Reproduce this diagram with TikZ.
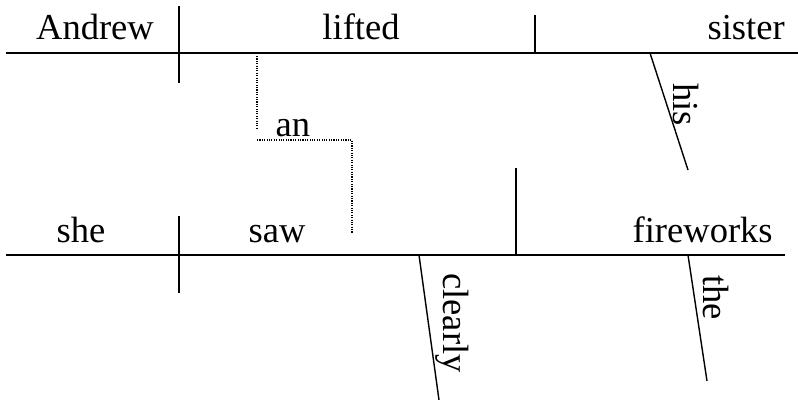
\documentclass[tikz,border=0pt]{standalone}
\usepackage{fontspec}
\setmainfont{Liberation Serif}
\usetikzlibrary{positioning}

\tikzset{
	word/.style={inner sep = 0pt, anchor = base, font=\fontsize{26}{30}\selectfont},
	slantword/.style={word, anchor = base west, rotate = -90},
	rule/.style={line width = 1pt},
	linker/.style={line width = 0.8pt, dash pattern = on 0.8pt off 0.9pt}
}

\begin{document}
\begin{tikzpicture}[x=0.025cm, y=-0.025cm]
		\useasboundingbox (0,0) rectangle (798,400);
		% upper clause
		\draw (95,40) node[word] (andrew) {Andrew}
		(361,40) node[word] (lifted) {lifted}
		(785,40) node[word, anchor = base east] (sister) {sister}
		(673,83) node[slantword] (his) {his};
		% lower clause
		\draw (81,243) node[word] (she) {she}
		(277,243) node[word] (saw) {saw}
		(773,243) node[word, anchor = base east] (fireworks) {fireworks}
		(443,273) node[slantword] (clearly) {clearly}
		(703,275) node[slantword] (the) {the}
		(293,137) node[word] (an) {an};

		\coordinate (top west) at (6,53);
		\coordinate (top east) at (798,53);
		\coordinate (low west) at (6,255);
		\coordinate (low east) at (785,255);

		\draw[rule] (top west) -- (top east);
		\draw[rule] (179,6) -- (179,83);
		\draw[rule] (535,15) -- (535,53);
		\draw[rule] (650,53) -- (688,170);

		\draw[rule] (low west) -- (low east);
		\draw[rule] (179,216) -- (179,293);
		\draw[rule] (516,168) -- (516,255);
		\draw[rule] (419,255) -- (439,400);
		\draw[rule] (688,255) -- (707,381);

		\draw[linker] (257,56) -- (257,128);
		\draw[linker] (257,140) -- (352,140) -- (352,233);
	\end{tikzpicture}
\end{document}
